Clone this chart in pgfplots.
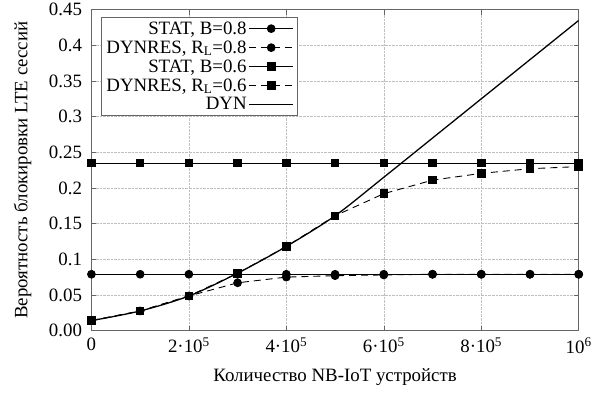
\documentclass[border=0pt]{standalone}
\usepackage{fontspec}
\setmainfont{Liberation Serif}
\usepackage{pgfplots}
\pgfplotsset{compat=1.18}

\begin{document}
\begin{tikzpicture}
\begin{axis}[
  scale only axis,
  width=489bp, height=322bp,
  xmin=0, xmax=1000000,
  ymin=0, ymax=0.45,
  font=\fontsize{19}{22}\selectfont,
  xtick={0,200000,400000,600000,800000,1000000},
  xticklabels={0, 2·10\textsuperscript{5}, 4·10\textsuperscript{5}, 6·10\textsuperscript{5}, 8·10\textsuperscript{5}, 10\textsuperscript{6}},
  scaled x ticks=false,
  ytick={0,0.05,0.1,0.15,0.2,0.25,0.3,0.35,0.4,0.45},
  yticklabels={0.00,0.05,0.1,0.15,0.2,0.25,0.3,0.35,0.4,0.45},
  yticklabel style={xshift=-6bp},
  xticklabel style={yshift=-4bp},
  tick align=inside,
  major tick length=5bp,
  tick style={black!60, line width=0.5pt},
  axis line style={black!60, line width=0.6pt},
  grid=major,
  grid style={densely dotted, black!25, line width=0.5pt},
  xlabel={Количество NB-IoT устройств},
  ylabel={Вероятность блокировки LTE сессий},
  xlabel style={yshift=-2bp, inner ysep=10bp},
  ylabel style={inner ysep=14bp},
  legend cell align=right,
  legend plot pos=right,
  legend style={draw=black!60, line width=0.5pt, inner xsep=3bp, inner ysep=2bp, row sep=1bp,
    at={(0.02,0.976)}, anchor=north west,
    font=\fontsize{19}{20}\selectfont},
  legend image code/.code={\draw[mark repeat=2,mark phase=2,#1] plot coordinates {(8bp,0bp) (30bp,0bp) (52bp,0bp)};},
]
% static reservation, B = 0.8
\addplot[black, line width=0.9pt, mark=*, mark size=3.9bp, mark options={solid}]
  coordinates {(0,0.079)(100000,0.079)(200000,0.079)(300000,0.079)(400000,0.079)(500000,0.079)
               (600000,0.079)(700000,0.079)(800000,0.079)(900000,0.079)(1000000,0.079)};
\addlegendentry{STAT, B=0.8}
% dynamic reservation, R_L = 0.8
\addplot[black, line width=0.9pt, dash pattern=on 7bp off 5bp, mark=*, mark size=3.9bp, mark options={solid}]
  coordinates {(0,0.014)(100000,0.0275)(200000,0.0485)(300000,0.067)(400000,0.075)(500000,0.077)
               (600000,0.078)(700000,0.079)(800000,0.079)(900000,0.079)(1000000,0.079)};
\addlegendentry{DYNRES, R\textsubscript{L}=0.8}
% static reservation, B = 0.6
\addplot[black, line width=0.9pt, mark=square*, mark size=3.8bp, mark options={solid}]
  coordinates {(0,0.235)(100000,0.235)(200000,0.235)(300000,0.235)(400000,0.235)(500000,0.235)
               (600000,0.235)(700000,0.235)(800000,0.235)(900000,0.235)(1000000,0.235)};
\addlegendentry{STAT, B=0.6}
% dynamic reservation, R_L = 0.6
\addplot[black, line width=0.9pt, dash pattern=on 7bp off 5bp, mark=square*, mark size=3.8bp, mark options={solid}]
  coordinates {(0,0.014)(100000,0.0275)(200000,0.0485)(300000,0.0805)(400000,0.118)(500000,0.161)
               (600000,0.192)(700000,0.211)(800000,0.2205)(900000,0.227)(1000000,0.230)};
\addlegendentry{DYNRES, R\textsubscript{L}=0.6}
% fully dynamic sharing
\addplot[black, line width=1.3pt, smooth, tension=0.5]
  coordinates {(0,0.014)(100000,0.0275)(200000,0.0485)(300000,0.0805)(400000,0.118)(500000,0.161)
               (600000,0.215)(700000,0.270)(800000,0.325)(900000,0.380)(1000000,0.435)};
\addlegendentry{DYN}
\end{axis}
\end{tikzpicture}
\end{document}
